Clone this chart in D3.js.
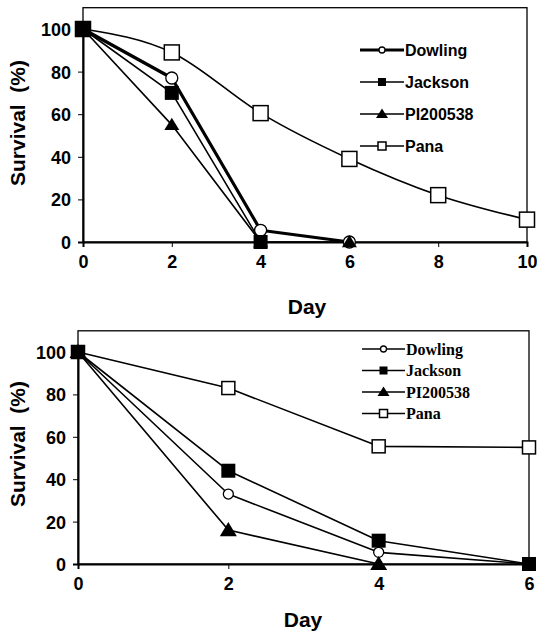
<!DOCTYPE html>
<html>
<head>
<meta charset="utf-8">
<title>Survival by day</title>
<style>
  html, body { margin: 0; padding: 0; background: #fff; }
  svg text { fill: #000; }
  .tick-lbl { font: bold 18px "Liberation Sans", Arial, sans-serif; }
  .ax-title { font: bold 21px "Liberation Sans", Arial, sans-serif; white-space: pre; }
</style>
</head>
<body>
<svg id="chart" width="537" height="632"></svg>
<script src="https://d3js.org/d3.v7.min.js"></script>
<script>
// ---- data ----
const series = ["Dowling", "Jackson", "PI200538", "Pana"];

// top panel
const topDays = [0, 2, 4, 6, 8, 10];
const topDowling = [100, 77, 5.5, 0];
const topJackson = [100, 70, 0];
const topPI = [100, 55, 0, 0];
const topPana = [100, 89, 60.5, 39, 22, 10.5];
const topXTicks = [0, 2, 4, 6, 8, 10];

// bottom panel
const botDays = [0, 2, 4, 6];
const botDowling = [100, 33, 5.5, 0];
const botJackson = [100, 44, 11, 0];
const botPI = [100, 16, 0];
const botPana = [100, 83, 55.5, 55];
const botXTicks = [0, 2, 4, 6];

const yTicks = [0, 20, 40, 60, 80, 100];

const svg = d3.select("#chart");

// marker drawing helper
function marker(g, kind, x, y, s) {
  if (kind === "circle") {
    g.append("circle").attr("cx", x).attr("cy", y).attr("r", s / 2)
      .attr("fill", "#fff").attr("stroke", "#000").attr("stroke-width", 1.3);
  } else if (kind === "square") {
    g.append("rect").attr("x", x - s / 2).attr("y", y - s / 2).attr("width", s).attr("height", s)
      .attr("fill", "#000");
  } else if (kind === "triangle") {
    const h = s * 0.9;
    g.append("path")
      .attr("d", `M${x},${y - h * 0.6} L${x + s / 2 + 1},${y + h * 0.45} L${x - s / 2 - 1},${y + h * 0.45} Z`)
      .attr("fill", "#000");
  } else if (kind === "osquare") {
    g.append("rect").attr("x", x - s / 2).attr("y", y - s / 2).attr("width", s).attr("height", s)
      .attr("fill", "#fff").attr("stroke", "#000").attr("stroke-width", 1.5);
  }
}

function panel(opt) {
  const g = svg.append("g");
  const x = d3.scaleLinear().domain(opt.xDomain).range([opt.left, opt.right]);
  const y = d3.scaleLinear().domain([0, 100]).range([opt.bottom, opt.y100]);
  const top = y(opt.yMax);

  // frame
  g.append("rect").attr("x", opt.left).attr("y", top)
    .attr("width", opt.right - opt.left).attr("height", opt.bottom - top)
    .attr("fill", "none").attr("stroke", "#000").attr("stroke-width", 1.3);

  // axes
  const yAxis = d3.axisLeft(y).tickValues(yTicks).tickSize(5).tickFormat(d3.format("d"));
  const xAxis = d3.axisBottom(x).tickValues(opt.xTicks).tickSize(5).tickFormat(d3.format("d"));
  const ya = g.append("g").attr("transform", `translate(${opt.left},0)`).call(yAxis);
  const xa = g.append("g").attr("transform", `translate(0,${opt.bottom})`).call(xAxis);
  [ya, xa].forEach(a => {
    a.select(".domain").attr("stroke-width", 2);
    a.selectAll(".tick line").attr("stroke-width", 1);
    a.selectAll(".tick text").attr("class", "tick-lbl").attr("fill", "#000");
  });
  ya.selectAll(".tick text").attr("x", -12).attr("dy", "0.36em");
  xa.selectAll(".tick text").attr("y", 13);

  // axis titles
  g.append("text").attr("class", "ax-title")
    .attr("transform", `translate(${opt.yTitleX},${opt.yTitleY}) rotate(-90)`)
    .attr("text-anchor", "middle").text("Survival  (%)");
  g.append("text").attr("class", "ax-title")
    .attr("x", opt.dayX).attr("y", opt.dayY).attr("text-anchor", "middle").text("Day");

  const kinds = ["circle", "square", "triangle", "osquare"];
  const sizes = opt.sizes;

  // drawing order: Pana, Dowling, PI200538, Jackson
  const order = [3, 0, 2, 1];
  order.forEach(i => {
    const vals = opt.data[i];
    const pts = vals.map((v, k) => [x(opt.days[k]), y(v)]);
    const line = d3.line().curve(opt.smooth && i === 3 ? d3.curveMonotoneX : d3.curveLinear);
    g.append("path").attr("d", line(pts)).attr("fill", "none")
      .attr("stroke", "#000").attr("stroke-width", opt.widths[i]).attr("stroke-linejoin", "round");
  });
  order.forEach(i => {
    const vals = opt.data[i];
    vals.forEach((v, k) => marker(g, kinds[i], x(opt.days[k]), y(v), sizes[i]));
  });

  // legend
  const lg = g.append("g");
  series.forEach((name, i) => {
    const ly = opt.legY + i * opt.legStep;
    lg.append("line").attr("x1", opt.legX).attr("x2", opt.legX + opt.legLen)
      .attr("y1", ly).attr("y2", ly).attr("stroke", "#000").attr("stroke-width", opt.legWidths[i]);
    marker(lg, kinds[i], opt.legX + opt.legLen / 2, ly, opt.legSizes[i]);
    lg.append("text").attr("x", opt.legX + opt.legLen + 1).attr("y", ly).attr("dy", "0.36em")
      .style("font", opt.legFont).text(name);
  });
}

panel({
  xDomain: [0, 10], left: 83, right: 527, bottom: 242, y100: 29, yMax: 110,
  xTicks: topXTicks, days: topDays,
  data: [topDowling, topJackson, topPI, topPana],
  widths: [3.2, 1.6, 1.6, 1.6], sizes: [12, 14, 13, 15], smooth: true,
  yTitleX: 25, yTitleY: 123, dayX: 307, dayY: 314,
  legX: 360, legLen: 44, legY: 50, legStep: 32,
  legWidths: [3.2, 1.6, 1.6, 1.6], legSizes: [6, 8, 10, 8],
  legFont: 'bold 16px "Liberation Sans", Arial, sans-serif'
});

panel({
  xDomain: [0, 6], left: 78, right: 529, bottom: 564, y100: 352, yMax: 110,
  xTicks: botXTicks, days: botDays,
  data: [botDowling, botJackson, botPI, botPana],
  widths: [1.6, 1.6, 1.6, 1.6], sizes: [10, 14, 15, 13], smooth: false,
  yTitleX: 25, yTitleY: 444, dayX: 303, dayY: 627,
  legX: 362, legLen: 43, legY: 349, legStep: 21.5,
  legWidths: [1.6, 1.6, 1.6, 1.6], legSizes: [6, 8, 10, 8],
  legFont: 'bold 16px "Liberation Serif", "Times New Roman", serif'
});
</script>
</body>
</html>
